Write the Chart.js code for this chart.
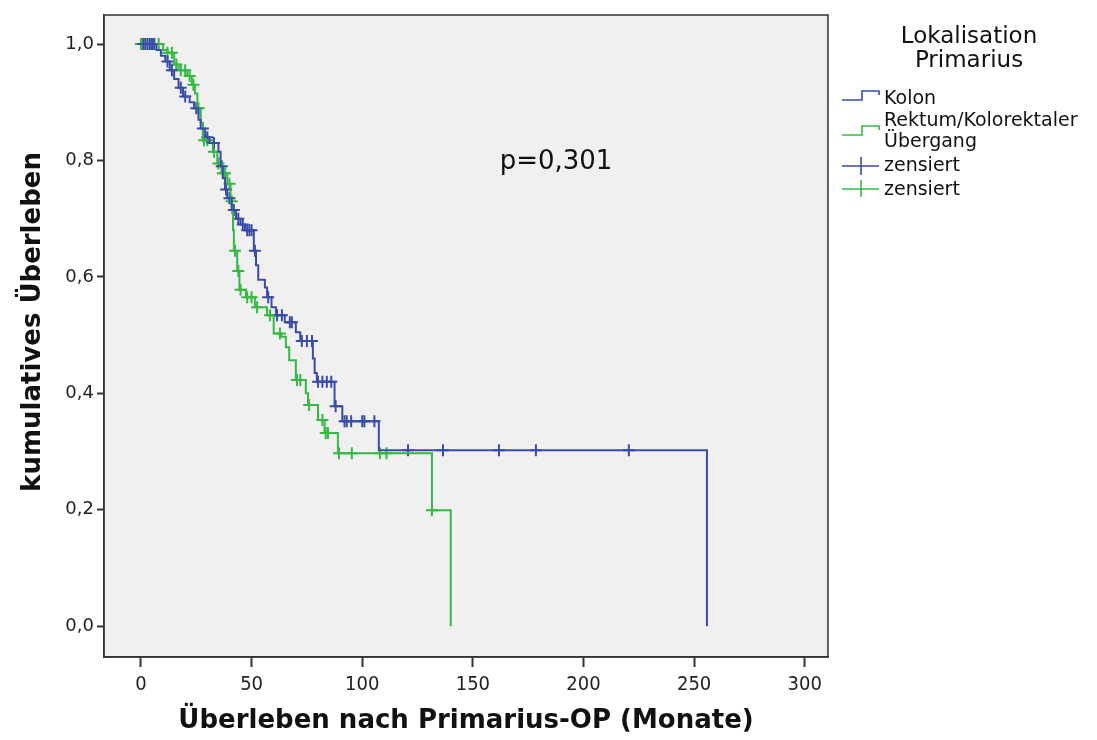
<!DOCTYPE html>
<html>
<head>
<meta charset="utf-8">
<script src="https://cdn.jsdelivr.net/npm/chart.js@4.4.0/dist/chart.umd.min.js"></script>
<style>
body{margin:0;background:#fff;}
</style>
</head>
<body>
<canvas id="kmChart" width="1097" height="740"></canvas>
<script>
// Kaplan-Meier Schritte (Zeit in Monaten, kumulatives Ueberleben nach dem Schritt)
const kolonTime = [0,7,9,11,13,15,17,19,22,24,26,27,29,31,35,36,37,38,39,41,43,45,47,51,52,53,56,57,59,61,65,70,72,77.7,78.5,79.5,87.5,91,107.5,255.8];
const kolonSurv = [1.0,0.99,0.98,0.97,0.955,0.94,0.925,0.91,0.9,0.89,0.87,0.855,0.84,0.83,0.815,0.79,0.77,0.75,0.735,0.715,0.70,0.69,0.68,0.645,0.62,0.595,0.582,0.565,0.548,0.534,0.522,0.505,0.49,0.46,0.435,0.42,0.378,0.352,0.302,0.0];

const rektumTime = [0,10,12,15,17,21,23,24.4,25.5,27,28,31,32.5,34.5,36.5,39,40.5,41.2,41.6,42,43.5,44.5,47.5,51.5,57,60,63.5,65.5,67,70,74.5,75.5,80,83,89,131.5,140];
const rektumSurv = [1.0,0.99,0.985,0.965,0.955,0.945,0.93,0.915,0.89,0.865,0.835,0.83,0.815,0.795,0.778,0.76,0.73,0.71,0.68,0.645,0.61,0.578,0.565,0.548,0.534,0.503,0.497,0.479,0.457,0.423,0.40,0.38,0.354,0.332,0.297,0.199,0.0];

// zensierte Faelle
const kolonCensTime = [1,2,3,4,5,6,12,14,18,20,25,28,30,33,36.5,38.5,40,42,44,46,48,49,50,51.5,57.5,61.5,63.7,67.3,68.2,72.7,75,77.3,80,82,84,86,88,92,93,95,100,101,105.5,120.7,136.5,161.8,178.5,220.5];
const kolonCensSurv = [1,1,1,1,1,1,0.97,0.955,0.925,0.91,0.89,0.855,0.84,0.83,0.79,0.75,0.735,0.715,0.70,0.69,0.68,0.68,0.68,0.645,0.565,0.534,0.534,0.522,0.522,0.49,0.49,0.49,0.42,0.42,0.42,0.42,0.378,0.352,0.352,0.352,0.352,0.352,0.352,0.302,0.302,0.302,0.302,0.302];

const rektumCensTime = [0,2,4,6,8,12,14,16,18,20,22,23.7,26,28.5,30,33,35,37,38,40,41,42.5,44,45,48,50,52.5,58.3,62.8,70.5,72,76,82,83.5,84.5,89.5,95.3,108,111,131.5];
const rektumCensSurv = [1,1,1,1,1,0.985,0.985,0.965,0.955,0.955,0.945,0.93,0.89,0.835,0.835,0.815,0.795,0.778,0.778,0.76,0.73,0.645,0.61,0.578,0.565,0.565,0.548,0.534,0.503,0.423,0.423,0.38,0.354,0.332,0.332,0.297,0.297,0.297,0.297,0.199];

const xTicks = [0,50,100,150,200,250,300];
const yTicks = [0,0.2,0.4,0.6,0.8,1.0];

const blue = "#3a4ca8";
const green = "#36b845";

function pts(t, s){
let out = [];
t.forEach((v,i)=>{ out.push({x:v, y:s[i]}); });
return out;
}

const plotFrame = {
id:"plotFrame",
beforeDraw(chart){
const a = chart.chartArea;
const ctx = chart.ctx;
ctx.save();
ctx.fillStyle = "#f0f0f0";
ctx.fillRect(a.left, a.top, a.right-a.left, a.bottom-a.top);
ctx.restore();
},
afterDraw(chart){
const a = chart.chartArea;
const ctx = chart.ctx;
ctx.save();
ctx.strokeStyle = "#333";
ctx.lineWidth = 1.5;
ctx.strokeRect(a.left, a.top, a.right-a.left, a.bottom-a.top);

// y-Achsentitel
ctx.save();
ctx.translate(33, 322);
ctx.rotate(-Math.PI/2);
ctx.fillStyle = "#111";
ctx.font = "bold 26px 'DejaVu Sans'";
ctx.textAlign = "center";
ctx.textBaseline = "middle";
ctx.fillText("kumulatives Überleben", 0, 0);
ctx.restore();

// p-Wert
ctx.fillStyle = "#111";
ctx.font = "26px 'DejaVu Sans'";
ctx.textAlign = "center";
ctx.textBaseline = "middle";
ctx.fillText("p=0,301", 556, 162);

// Legende
ctx.font = "23px 'DejaVu Sans'";
ctx.fillText("Lokalisation", 969, 37);
ctx.fillText("Primarius", 969, 61);

ctx.lineWidth = 1.6;
ctx.strokeStyle = blue;
ctx.beginPath();
ctx.moveTo(842,100); ctx.lineTo(862,100); ctx.lineTo(862,91); ctx.lineTo(879,91); ctx.lineTo(879,95);
ctx.stroke();
ctx.strokeStyle = green;
ctx.beginPath();
ctx.moveTo(842,135); ctx.lineTo(862,135); ctx.lineTo(862,126); ctx.lineTo(879,126); ctx.lineTo(879,130);
ctx.stroke();
ctx.strokeStyle = blue;
ctx.beginPath();
ctx.moveTo(842,166); ctx.lineTo(879,166); ctx.moveTo(861,157); ctx.lineTo(861,175);
ctx.stroke();
ctx.strokeStyle = green;
ctx.beginPath();
ctx.moveTo(842,189); ctx.lineTo(879,189); ctx.moveTo(861,180); ctx.lineTo(861,197);
ctx.stroke();

ctx.font = "19px 'DejaVu Sans'";
ctx.textAlign = "left";
ctx.fillText("Kolon", 884, 99);
ctx.fillText("Rektum/Kolorektaler", 884, 121);
ctx.fillText("Übergang", 884, 142);
ctx.fillText("zensiert", 884, 166);
ctx.fillText("zensiert", 884, 190);
ctx.restore();
}
};

new Chart(document.getElementById("kmChart"), {
type: "scatter",
data: {
datasets: [
{
label: "Kolon",
data: pts(kolonTime, kolonSurv),
showLine: true,
stepped: "before",
borderColor: blue,
borderWidth: 2,
pointRadius: 0
},
{
label: "Rektum/Kolorektaler Übergang",
data: pts(rektumTime, rektumSurv),
showLine: true,
stepped: "before",
borderColor: green,
borderWidth: 2,
pointRadius: 0
},
{
label: "zensiert",
data: pts(kolonCensTime, kolonCensSurv),
showLine: false,
pointStyle: "cross",
pointRadius: 6,
borderColor: blue,
backgroundColor: blue,
borderWidth: 2
},
{
label: "zensiert",
data: pts(rektumCensTime, rektumCensSurv),
showLine: false,
pointStyle: "cross",
pointRadius: 6,
borderColor: green,
backgroundColor: green,
borderWidth: 2
}
]
},
options: {
responsive: false,
animation: false,
events: [],
layout: { padding: { left: 0, right: 269, top: 15, bottom: 0 } },
plugins: {
legend: { display: false },
tooltip: { enabled: false }
},
scales: {
x: {
type: "linear",
min: -16.7,
max: 310.5,
afterFit(s){ s.height = 83; },
afterBuildTicks(s){ s.ticks = xTicks.map(v=>({value:v})); },
grid: { drawOnChartArea: false, drawTicks: true, tickLength: 10, tickColor: "#333", tickWidth: 2 },
border: { display: true, color: "#333", width: 1.5 },
ticks: {
padding: 6,
color: "#222",
font: { family: "'DejaVu Sans Condensed'", size: 20 },
callback: v => String(v)
},
title: {
display: true,
text: "Überleben nach Primarius-OP (Monate)",
color: "#111",
font: { family: "'DejaVu Sans'", size: 26, weight: "bold" },
padding: { top: 0, bottom: 3 }
}
},
y: {
type: "linear",
min: -0.053,
max: 1.05,
afterFit(s){ s.width = 104; },
afterBuildTicks(s){ s.ticks = yTicks.map(v=>({value:v})); },
grid: { drawOnChartArea: false, drawTicks: true, tickLength: 7, tickColor: "#333", tickWidth: 2 },
border: { display: true, color: "#333", width: 1.5 },
ticks: {
padding: 3,
color: "#222",
font: { family: "'DejaVu Sans'", size: 18 },
callback: v => v.toFixed(1).replace(".", ",")
}
}
}
},
plugins: [plotFrame]
});
</script>
</body>
</html>
